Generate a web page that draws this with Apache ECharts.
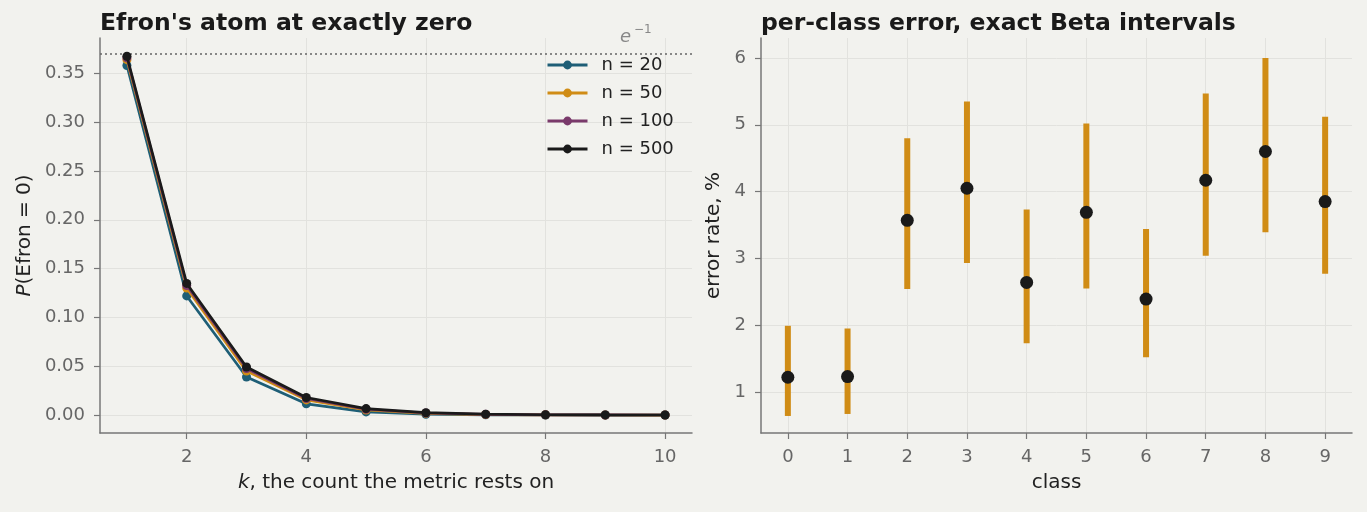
<!DOCTYPE html>
<html>
<head>
<meta charset="utf-8">
<script src="https://cdn.jsdelivr.net/npm/echarts@6/dist/echarts.min.js"></script>
<style>
  html, body { margin: 0; padding: 0; background: #f2f2ee; }
  #chart { width: 1367px; height: 512px; }
</style>
</head>
<body>
<div id="chart"></div>
<script>
// left panel: P(Efron = 0) against k
const kValues = [1, 2, 3, 4, 5, 6, 7, 8, 9, 10];
const n20  = [0.358, 0.122, 0.039, 0.0115, 0.0032, 0.0008, 0.0002, 0.00004, 0.00001, 0.0];
const n50  = [0.364, 0.130, 0.045, 0.0155, 0.0052, 0.0017, 0.0005, 0.0002, 0.00005, 0.00001];
const n100 = [0.366, 0.1326, 0.0476, 0.0169, 0.0059, 0.0021, 0.0007, 0.0002, 0.00008, 0.00003];
const n500 = [0.3675, 0.1348, 0.0492, 0.0180, 0.0066, 0.0024, 0.0009, 0.0003, 0.0001, 0.00004];
const seriesNames = ['n = 20', 'n = 50', 'n = 100', 'n = 500'];
const eInv = 0.3679;
const leftXTicks = [2, 4, 6, 8, 10];
const leftYTicks = [0, 0.05, 0.1, 0.15, 0.2, 0.25, 0.3, 0.35];

// right panel: per-class error rate (%) with interval
const classes = [0, 1, 2, 3, 4, 5, 6, 7, 8, 9];
const errRate = [1.22, 1.23, 3.57, 4.05, 2.64, 3.69, 2.39, 4.17, 4.60, 3.85];
const errLow  = [0.64, 0.67, 2.54, 2.93, 1.73, 2.55, 1.52, 3.04, 3.39, 2.77];
const errHigh = [1.99, 1.95, 4.80, 5.35, 3.73, 5.02, 3.44, 5.47, 6.00, 5.12];
const rightYTicks = [1, 2, 3, 4, 5, 6];

const colors = ['#1e5e76', '#d08c15', '#7a3a6b', '#1a1a1a'];
const FONT = 'DejaVu Sans';

let axisCommon = {
    axisLine: { show: true, onZero: false, lineStyle: { color: '#777', width: 1.5 } },
    axisTick: { show: true, length: 6, lineStyle: { color: '#777', width: 1.2 } },
    axisLabel: { color: '#666', fontSize: 18, fontFamily: FONT },
    splitLine: { show: true, lineStyle: { color: '#e2e2de', width: 1 } },
    nameTextStyle: { color: '#222', fontSize: 20, fontFamily: FONT },
    nameLocation: 'middle'
};

function ax(extra) {
    return echarts.util.merge(echarts.util.clone(axisCommon), extra, true);
}

const italicRich = { i: { fontStyle: 'italic', fontSize: 20, color: '#222', fontFamily: FONT } };

let lineSeries = [n20, n50, n100, n500].map(function(vals, i){
    return {
        name: seriesNames[i],
        type: 'line',
        xAxisIndex: 0,
        yAxisIndex: 0,
        data: kValues.map((k, j) => [k, vals[j]]),
        symbol: 'circle',
        symbolSize: 9,
        lineStyle: { width: 2.7, color: colors[i] },
        itemStyle: { color: colors[i] },
        z: 3 + i,
        markLine: i === 0 ? {
            silent: true,
            symbol: 'none',
            label: { show: false },
            lineStyle: { type: [2, 3], color: '#666', width: 1.5 },
            data: [{ yAxis: eInv }]
        } : undefined
    };
});

let option = {
    backgroundColor: '#f2f2ee',
    animation: false,
    textStyle: { fontFamily: FONT },
    title: [
        { text: "Efron's atom at exactly zero", left: 95, top: 7,
          textStyle: { fontSize: 23.5, fontWeight: 'bold', color: '#1a1a1a', fontFamily: FONT } },
        { text: 'per-class error, exact Beta intervals', left: 756, top: 7,
          textStyle: { fontSize: 23.5, fontWeight: 'bold', color: '#1a1a1a', fontFamily: FONT } }
    ],
    legend: {
        data: seriesNames,
        orient: 'vertical',
        left: 541,
        top: 51,
        itemWidth: 40,
        itemHeight: 11,
        itemGap: 10,
        lineStyle: { width: 3 },
        textStyle: { fontSize: 18, color: '#222', fontFamily: FONT, padding: [0, 0, 0, 9] }
    },
    grid: [
        { left: 100, top: 38, width: 592, height: 395 },
        { left: 761, top: 38, width: 591, height: 395 }
    ],
    xAxis: [
        ax({ gridIndex: 0, type: 'value', min: 0.55, max: 10.45,
             axisLabel: { customValues: leftXTicks, margin: 15 }, axisTick: { customValues: leftXTicks },
             name: '{i|k}, the count the metric rests on', nameGap: 40,
             nameTextStyle: { rich: italicRich } }),
        ax({ gridIndex: 1, type: 'value', min: -0.45, max: 9.45,
             axisLabel: { customValues: classes, margin: 15 }, axisTick: { customValues: classes },
             name: 'class', nameGap: 40 })
    ],
    yAxis: [
        ax({ gridIndex: 0, type: 'value', min: -0.0184, max: 0.3862,
             axisLabel: { customValues: leftYTicks, margin: 15, formatter: v => v.toFixed(2) },
             axisTick: { customValues: leftYTicks },
             name: '{i|P}(Efron = 0)', nameGap: 65,
             nameTextStyle: { rich: italicRich } }),
        ax({ gridIndex: 1, type: 'value', min: 0.385, max: 6.30,
             axisLabel: { customValues: rightYTicks, margin: 15 }, axisTick: { customValues: rightYTicks },
             name: 'error rate, %', nameGap: 37 })
    ],
    graphic: [
        { type: 'text', left: 620, top: 28,
          style: { text: 'e', font: 'italic 18px "DejaVu Sans"', fill: '#888' } },
        { type: 'text', left: 634, top: 24,
          style: { text: '−1', font: '12px "DejaVu Sans"', fill: '#888' } }
    ],
    series: lineSeries.concat([
        {
            name: 'interval',
            type: 'custom',
            xAxisIndex: 1,
            yAxisIndex: 1,
            data: classes.map((c, i) => [c, errLow[i], errHigh[i]]),
            renderItem: function(params, api){
                let lo = api.coord([api.value(0), api.value(1)]);
                let hi = api.coord([api.value(0), api.value(2)]);
                return {
                    type: 'rect',
                    shape: { x: lo[0] - 3, y: hi[1], width: 6, height: lo[1] - hi[1] },
                    style: { fill: '#d08c15' }
                };
            },
            z: 2
        },
        {
            name: 'rate',
            type: 'scatter',
            xAxisIndex: 1,
            yAxisIndex: 1,
            data: classes.map((c, i) => [c, errRate[i]]),
            symbolSize: 13,
            itemStyle: { color: '#1a1a1a', opacity: 1 },
            z: 4
        }
    ])
};

let chart = echarts.init(document.getElementById('chart'));
chart.setOption(option);
</script>
</body>
</html>
